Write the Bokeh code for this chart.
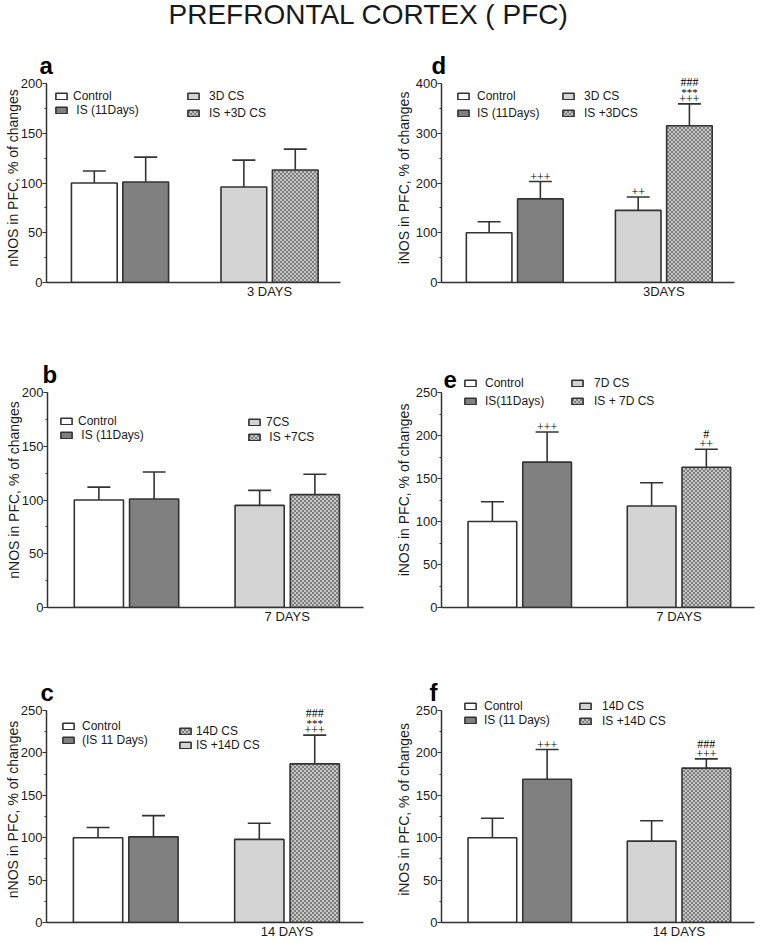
import base64
import struct
import zlib

from bokeh.core.properties import value
from bokeh.embed import file_html
from bokeh.layouts import column, row
from bokeh.models import (ColumnDataSource, FixedTicker, ImageURLTexture, Legend,
                          LegendItem, Range1d, SingleIntervalTicker, TeeHead, Whisker)
from bokeh.plotting import figure
from bokeh.resources import INLINE

# ---------------------------------------------------------------- data
page_title = "PREFRONTAL CORTEX ( PFC)"

nnos_label = "nNOS in PFC, % of changes"
inos_label = "iNOS in PFC, % of changes"

# panel a : nNOS, 3 days
a_day = "3 DAYS"
a_labels = ["Control", " IS (11Days)", "3D CS", "IS +3D CS"]
a_mean = [100, 101, 96, 113]
a_err = [12, 25, 27, 21]
a_plus = ["", "", "", ""]
a_star = ["", "", "", ""]
a_hash = ["", "", "", ""]

# panel b : nNOS, 7 days
b_day = "7 DAYS"
b_labels = ["Control", " IS (11Days)", "7CS", " IS +7CS"]
b_mean = [100, 101, 95, 105]
b_err = [12, 25, 14, 19]
b_plus = ["", "", "", ""]
b_star = ["", "", "", ""]
b_hash = ["", "", "", ""]

# panel c : nNOS, 14 days
c_day = "14 DAYS"
c_labels = ["Control", "(IS 11 Days)", "IS +14D CS", "14D CS"]
c_mean = [100, 101, 98, 187]
c_err = [12, 25, 19, 34]
c_plus = ["", "", "", "+++"]
c_star = ["", "", "", "***"]
c_hash = ["", "", "", "###"]

# panel d : iNOS, 3 days
d_day = "3DAYS"
d_labels = ["Control", "IS (11Days)", "3D CS", "IS +3DCS"]
d_mean = [100, 168, 145, 315]
d_err = [22, 35, 27, 44]
d_plus = ["", "+++", "++", "+++"]
d_star = ["", "", "", "***"]
d_hash = ["", "", "", "###"]

# panel e : iNOS, 7 days
e_day = "7 DAYS"
e_labels = ["Control", "IS(11Days)", "7D CS", "IS + 7D CS"]
e_mean = [100, 169, 118, 163]
e_err = [23, 35, 27, 21]
e_plus = ["", "+++", "", "++"]
e_star = ["", "", "", ""]
e_hash = ["", "", "", "#"]

# panel f : iNOS, 14 days
f_day = "14 DAYS"
f_labels = ["Control", "IS (11 Days)", "14D CS", "IS +14D CS"]
f_mean = [100, 169, 96, 182]
f_err = [23, 35, 24, 11]
f_plus = ["", "+++", "", "+++"]
f_star = ["", "", "", ""]
f_hash = ["", "", "", "###"]

y_max = {"a": 200, "b": 200, "c": 250, "d": 400, "e": 250, "f": 250}
y_step = {"a": 50, "b": 50, "c": 50, "d": 100, "e": 50, "f": 50}

# ---------------------------------------------------------------- styling
FONT = "Liberation Sans"
INK = "#1a1a1a"
EDGE = "#333333"
GROUP_GAP = 0.91
BAR_W = 0.89
PAD_L, PAD_R = 0.43, 0.38


def checker_uri(dark, light, cell):
    n = cell * 2
    rows = []
    for yy in range(n):
        rows.append(bytes(dark if ((xx // cell) + (yy // cell)) % 2 == 0 else light
                          for xx in range(n)))
    raw = b"".join(b"\x00" + r for r in rows)

    def chunk(tag, data):
        return (struct.pack(">I", len(data)) + tag + data
                + struct.pack(">I", zlib.crc32(tag + data) & 0xFFFFFFFF))

    png = (b"\x89PNG\r\n\x1a\n"
           + chunk(b"IHDR", struct.pack(">IIBBBBB", n, n, 8, 0, 0, 0, 0))
           + chunk(b"IDAT", zlib.compress(raw))
           + chunk(b"IEND", b""))
    return "data:image/png;base64," + base64.b64encode(png).decode()


CHECKER = ImageURLTexture(url=checker_uri(0x7D, 0xC6, 2), repetition="repeat")

BAR_STYLE = [
    dict(fill_color="white"),
    dict(fill_color="#808080"),
    dict(fill_color="#d4d4d4"),
    dict(fill_color="#a2a2a2", hatch_pattern=".", hatch_extra={".": CHECKER},
         hatch_alpha=1.0),
]

# w/h: figure size; bl/br: frame left/right borders; top: data top offset from
# figure top; dh: data height (px); bb: bottom border; hr: headroom above data
# top (same for both panels of a row, as a row aligns its frames)
LAYOUT = {
    "a": dict(w=381, h=303, bl=46, br=41, top=46, dh=199, bb=58, hr=10, loff=-7, yso=-3,
              legends=[dict(items=[0, 1], x=8, y=165, sp=0, so=5),
                       dict(items=[2, 3], x=140, y=162, sp=3, so=9)]),
    "d": dict(w=381, h=303, bl=60, br=28, top=46, dh=199, bb=58, hr=10, loff=-10, yso=1,
              legends=[dict(items=[0, 1], x=15, y=162, sp=3, so=7),
                       dict(items=[2, 3], x=120, y=162, sp=3, so=9)]),
    "b": dict(w=381, h=320, bl=47, br=18, top=52, dh=215, bb=53, hr=20, loff=-5, yso=-3,
              legends=[dict(items=[0, 1], x=12, y=165, sp=0, so=5),
                       dict(items=[2, 3], x=200, y=163, sp=1, so=5)]),
    "e": dict(w=381, h=320, bl=60, br=8, top=52, dh=215, bb=53, hr=20, loff=2, yso=1,
              legends=[dict(items=[0, 1], x=22, y=199, sp=4, so=8),
                       dict(items=[2, 3], x=129, y=199, sp=4, so=10)]),
    "c": dict(w=381, h=283, bl=46, br=18, top=50, dh=212, bb=21, hr=14, loff=-6, yso=-3,
              legends=[dict(items=[0, 1], x=15, y=175, sp=0, so=7),
                       dict(items=[3, 2], x=132, y=170, sp=0, so=4)]),
    "f": dict(w=381, h=283, bl=60, br=8, top=50, dh=212, bb=21, hr=14, loff=-12, yso=1,
              legends=[dict(items=[0, 1], x=22, y=195, sp=0, so=7),
                       dict(items=[2, 3], x=137, y=194, sp=1, so=10)]),
}


def make_panel(key, ylabel, day, labels, mean, err, plus, star, hsh):
    L = LAYOUT[key]
    n = len(mean)
    xpos = [i + GROUP_GAP * (i // 2) for i in range(n)]
    upper = [m + e for m, e in zip(mean, err)]
    center = (xpos[2] + xpos[3]) / 2
    ymax = y_max[key]
    y_end = ymax + L["hr"] * ymax / L["dh"]

    p = figure(width=L["w"], height=L["h"], title=key,
               x_range=Range1d(xpos[0] - 0.5 - PAD_L, xpos[-1] + 0.5 + PAD_R),
               y_range=Range1d(0, y_end),
               output_backend="svg", toolbar_location=None,
               min_border_left=L["bl"], min_border_right=L["br"],
               min_border_top=L["top"] - L["hr"], min_border_bottom=L["bb"])
    p.outline_line_color = None
    p.xgrid.visible = False
    p.ygrid.visible = False

    p.title.text_font = FONT
    p.title.text_font_size = "24px"
    p.title.text_font_style = "bold"
    p.title.text_color = "#000000"
    p.title.align = "left"
    p.title.offset = L["loff"]
    p.title.standoff = 10 - 2 * L["hr"]

    bars = []
    for i in range(n):
        r = p.vbar(x=[xpos[i]], top=[mean[i]], bottom=0, width=BAR_W,
                   line_color=EDGE, line_width=1.6, **BAR_STYLE[i])
        bars.append(r)

    src = ColumnDataSource(dict(x=xpos, lower=mean, upper=upper))
    p.add_layout(Whisker(source=src, base="x", lower="lower", upper="upper",
                         dimension="height", line_color=EDGE, line_width=1.6,
                         lower_head=None,
                         upper_head=TeeHead(size=23, line_color=EDGE, line_width=1.6)))

    hash_off = -22 if any(star) else -15
    for texts, off, size in ((plus, -5, "12px"), (star, -12, "11px"), (hsh, hash_off, "12px")):
        idx = [i for i, t in enumerate(texts) if t]
        if not idx:
            continue
        p.text(x=[xpos[i] for i in idx], y=[upper[i] for i in idx],
               text=[texts[i] for i in idx], y_offset=off,
               text_align="center", text_baseline="middle",
               text_font=value("Liberation Serif"), text_font_size=value(size),
               text_color="#000000")

    # y axis
    ya = p.yaxis[0]
    ya.ticker = SingleIntervalTicker(interval=y_step[key], num_minor_ticks=2)
    ya.bounds = (0, ymax)
    ya.axis_label = ylabel
    ya.axis_label_text_font = FONT
    ya.axis_label_text_font_size = "14px"
    ya.axis_label_text_font_style = "normal"
    ya.axis_label_text_color = INK
    ya.axis_label_standoff = L["yso"]
    ya.major_label_text_font = FONT
    ya.major_label_text_font_size = "13px"
    ya.major_label_text_color = INK
    ya.major_label_standoff = 0
    ya.major_tick_out = 4
    ya.major_tick_in = 0
    ya.minor_tick_out = 2
    ya.minor_tick_in = 0
    ya.axis_line_width = 1.5
    ya.axis_line_color = EDGE
    ya.major_tick_line_color = EDGE
    ya.minor_tick_line_color = EDGE

    # x axis
    xa = p.xaxis[0]
    xa.ticker = FixedTicker(ticks=[center])
    xa.major_label_overrides = {center: day}
    xa.major_label_text_font = FONT
    xa.major_label_text_font_size = "13px"
    xa.major_label_text_color = INK
    xa.major_label_standoff = 1
    xa.major_tick_out = 0
    xa.major_tick_in = 0
    xa.axis_line_width = 1.5
    xa.axis_line_color = EDGE

    for lg in L["legends"]:
        items = [LegendItem(label=labels[i], renderers=[bars[i]]) for i in lg["items"]]
        leg = Legend(items=items, location=(lg["x"], lg["y"]), orientation="vertical",
                     glyph_width=14, glyph_height=8, label_height=8, label_width=10,
                     spacing=lg["sp"], padding=0, margin=0, label_standoff=lg["so"],
                     border_line_alpha=0, background_fill_alpha=0,
                     label_text_font=FONT, label_text_font_size="12px",
                     label_text_color=INK)
        p.add_layout(leg)
    return p


header = figure(width=762, height=37, x_axis_type=None, y_axis_type=None,
                x_range=Range1d(0, 1), y_range=Range1d(0, 1),
                output_backend="svg", toolbar_location=None,
                min_border_left=0, min_border_right=0, min_border_top=0,
                min_border_bottom=0, title=page_title)
header.outline_line_color = None
header.title.text_font = FONT
header.title.text_font_size = "28px"
header.title.text_font_style = "normal"
header.title.text_color = INK
header.title.align = "left"
header.title.vertical_align = "top"
header.title.offset = 168
header.title.standoff = -4

pa = make_panel("a", nnos_label, a_day, a_labels, a_mean, a_err, a_plus, a_star, a_hash)
pb = make_panel("b", nnos_label, b_day, b_labels, b_mean, b_err, b_plus, b_star, b_hash)
pc = make_panel("c", nnos_label, c_day, c_labels, c_mean, c_err, c_plus, c_star, c_hash)
pd_ = make_panel("d", inos_label, d_day, d_labels, d_mean, d_err, d_plus, d_star, d_hash)
pe = make_panel("e", inos_label, e_day, e_labels, e_mean, e_err, e_plus, e_star, e_hash)
pf = make_panel("f", inos_label, f_day, f_labels, f_mean, f_err, f_plus, f_star, f_hash)

layout = column(header, row(pa, pd_), row(pb, pe), row(pc, pf))

with open("out.html", "w") as fh:
    fh.write(file_html(layout, INLINE, title=page_title))
